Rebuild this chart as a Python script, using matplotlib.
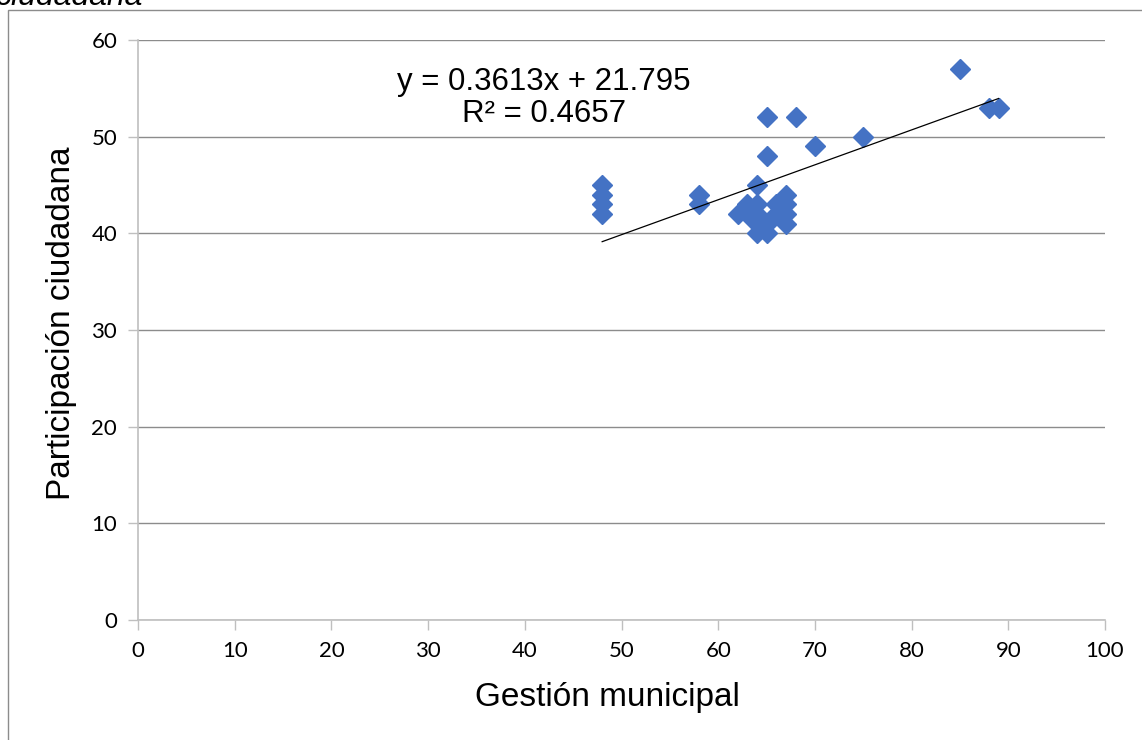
import numpy as np
from matplotlib import pyplot as plt
from matplotlib.patches import Rectangle

# datos
gestion = [48, 48, 48, 48, 58, 58, 62, 63, 63, 64, 64, 64, 64, 64, 65, 65,
           65, 65, 66, 66, 67, 67, 67, 67, 68, 70, 75, 85, 88, 89]
participacion = [45, 44, 43, 42, 44, 43, 42, 43, 42, 45, 43, 42, 41, 40, 40, 41,
                 52, 48, 43, 42, 44, 43, 42, 41, 52, 49, 50, 57, 53, 53]
pendiente = 0.3613
intercepto = 21.795
r2 = 0.4657
x_ticks = [0, 10, 20, 30, 40, 50, 60, 70, 80, 90, 100]
y_ticks = [0, 10, 20, 30, 40, 50, 60]

fig = plt.figure(figsize=(11.42, 7.4), dpi=100)
ax = fig.add_axes([138 / 1142, 1 - 620 / 740, (1105 - 138) / 1142, (620 - 40) / 740])

# marco exterior del grafico (se sale por la derecha y por abajo)
fig.patches.append(Rectangle((8 / 1142, -0.1), 1.2, 1.1 - 10 / 740,
                             transform=fig.transFigure, fill=False,
                             edgecolor='#8c8c8c', linewidth=1.0))
# titulo cortado arriba
fig.text(143 / 1142, 1 - 5 / 740, 'ciudadana', ha='right', va='baseline',
         fontsize=23, style='italic', family='Liberation Sans')

ax.plot(gestion, participacion, 'D', color='#4472C4', markersize=10, zorder=3)

# linea de tendencia
xt = np.array([min(gestion), max(gestion)])
ax.plot(xt, pendiente * xt + intercepto, color='black', linewidth=0.9, zorder=4)
ax.text(544 / 1142, 1 - 98 / 740,
        'y = %.4fx + %.3f\nR² = %.4f' % (pendiente, intercepto, r2),
        transform=fig.transFigure, ha='center', va='center', fontsize=22.5,
        family='Liberation Sans', linespacing=1.05)

ax.set_xlim(0, 100)
ax.set_ylim(0, 60)
ax.set_xticks(x_ticks)
ax.set_yticks(y_ticks)
ax.yaxis.grid(True, color='#8c8c8c', linewidth=1.0)
ax.set_axisbelow(True)
for s in ['top', 'right']:
    ax.spines[s].set_visible(False)
for s in ['left', 'bottom']:
    ax.spines[s].set_color('#bfbfbf')
    ax.spines[s].set_linewidth(1.2)
ax.tick_params(length=7, width=1.0, color='#bfbfbf', labelsize=16, pad=8)
for lab in ax.get_xticklabels() + ax.get_yticklabels():
    lab.set_family('Lato')

ax.set_xlabel('Gestión municipal', fontsize=24, family='Liberation Sans', va='center')
ax.set_ylabel('Participación ciudadana', fontsize=24, family='Liberation Sans', va='center')
ax.xaxis.set_label_coords(0.485, -0.133)
ax.yaxis.set_label_coords(-0.0786, 0.512)

fig.savefig('out.png', dpi=100)
